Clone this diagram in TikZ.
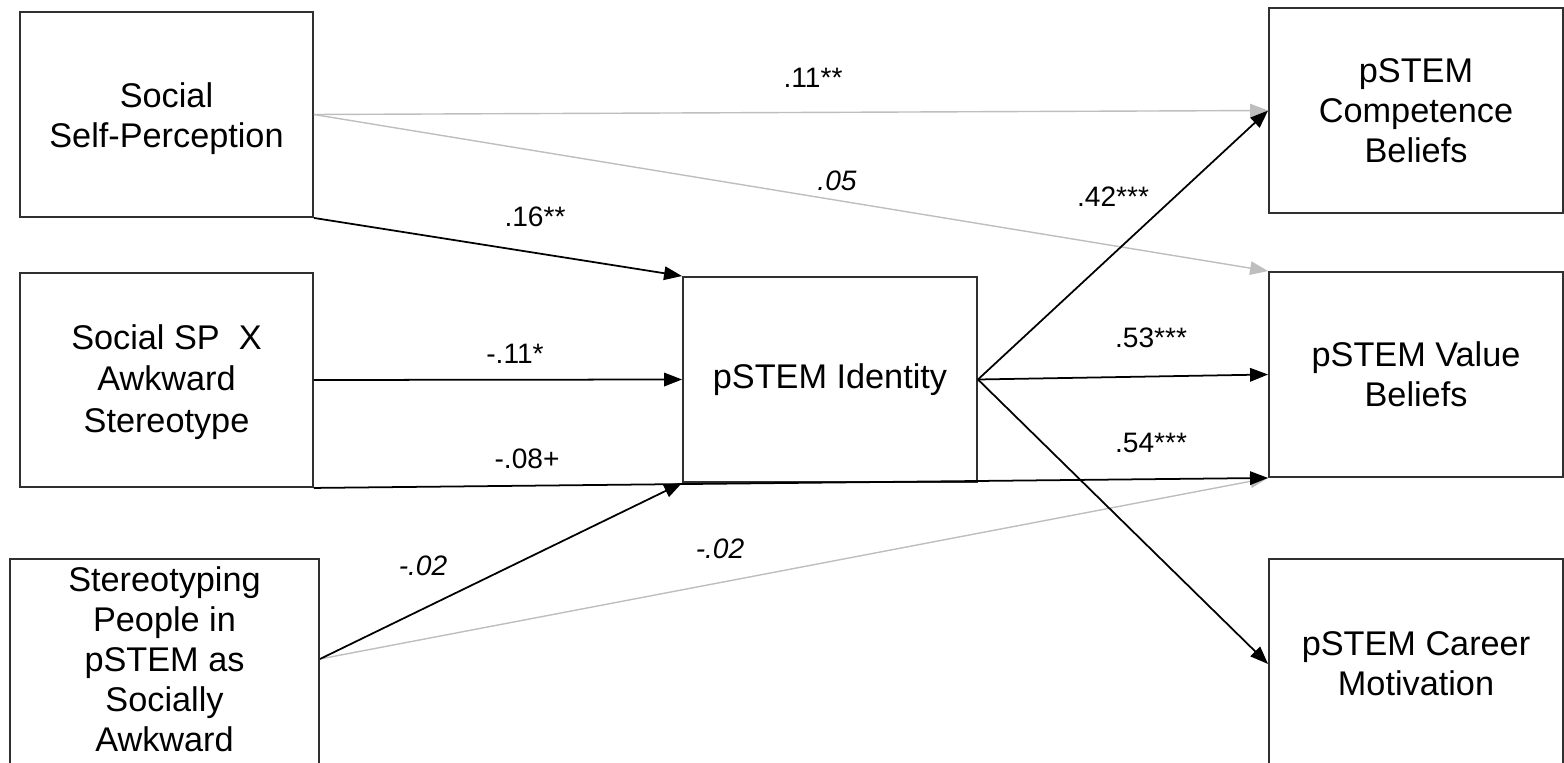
\documentclass[tikz,border=0pt]{standalone}
\usepackage{fontspec}
\setmainfont{Liberation Sans}
\usetikzlibrary{arrows.meta}
\definecolor{boxline}{HTML}{303030}
\definecolor{weakpath}{HTML}{BEBEBE}
\begin{document}
\begin{tikzpicture}[x=0.02cm,y=-0.02cm,
  var/.style={draw=boxline,line width=1.1pt,fill=white,inner sep=0pt,align=center,
    font=\fontsize{19.5}{22.8}\selectfont},
  vartext/.style={inner sep=0pt,align=center,font=\fontsize{19.5}{22.8}\selectfont},
  sigpath/.style={draw=black,line width=1pt,-{Triangle[length=0.36cm,width=0.27cm]}},
  nspath/.style={draw=weakpath,line width=0.8pt,-{Triangle[length=0.36cm,width=0.27cm,fill=weakpath]}},
  coef/.style={inner sep=0pt,font=\fontsize{16}{19}\selectfont},
  coefit/.style={coef,font=\fontsize{16}{19}\selectfont\itshape}]

\clip (0,0) rectangle (1564,763);

% predictors
\node[var,minimum width=5.86cm,minimum height=4.10cm] (ssp) at (166.5,114.5) {};
\node[vartext] (ssptext) at (166.5,119) {Social\\Self-Perception};
\node[var,minimum width=5.86cm,minimum height=4.28cm] (inter) at (166.5,380) {};
\node[vartext,font=\fontsize{19.5}{23.6}\selectfont] (intertext) at (166.5,382) {Social SP\ \ X\\Awkward\\Stereotype};
\node[var,minimum width=6.18cm,minimum height=5.2cm] (stereo) at (164.5,689) {};
\node[vartext] (stereotext) at (164.5,659) {Stereotyping\\People in\\pSTEM as\\Socially\\Awkward};

% mediator
\node[var,minimum width=5.88cm,minimum height=4.10cm] (ident) at (830,379.5) {pSTEM Identity};

% outcomes
\node[var,minimum width=5.88cm,minimum height=4.10cm] (comp) at (1416,110.5) {pSTEM\\Competence\\Beliefs};
\node[var,minimum width=5.88cm,minimum height=4.10cm] (val) at (1416,374.5) {pSTEM Value\\Beliefs};
\node[var,minimum width=5.88cm,minimum height=5.2cm] (career) at (1416,689) {};
\node[vartext] (careertext) at (1416,664) {pSTEM Career\\Motivation};

% non-significant paths
\draw[nspath] (ssp.east) -- (comp.west);
\draw[nspath] (ssp.east) -- (val.north west);
\draw[nspath] (stereo.east |- stereotext.center) -- (val.south west);

% significant paths
\draw[sigpath] (ssp.south east) -- (ident.north west);
\draw[sigpath] (inter.east) -- (ident.west);
\draw[sigpath] (inter.south east) -- (val.south west);
\draw[sigpath] (stereo.east |- stereotext.center) -- (ident.south west);
\draw[sigpath] (ident.east) -- (comp.west);
\draw[sigpath] (ident.east) -- (val.west);
\draw[sigpath] (ident.east) -- (career.west |- careertext.center);

% path coefficients
\node[coef] (c1) at (813,78) {.11**};
\node[coefit] (c2) at (837,181) {.05};
\node[coef] (c3) at (535,217) {.16**};
\node[coef] (c4) at (515,354) {-.11*};
\node[coef] (c5) at (527,459) {-.08+};
\node[coefit] (c6) at (423,566) {-.02};
\node[coefit] (c7) at (720,549) {-.02};
\node[coef] (c8) at (1113,197) {.42***};
\node[coef] (c9) at (1151,338) {.53***};
\node[coef] (c10) at (1151,443) {.54***};
\end{tikzpicture}
\end{document}
